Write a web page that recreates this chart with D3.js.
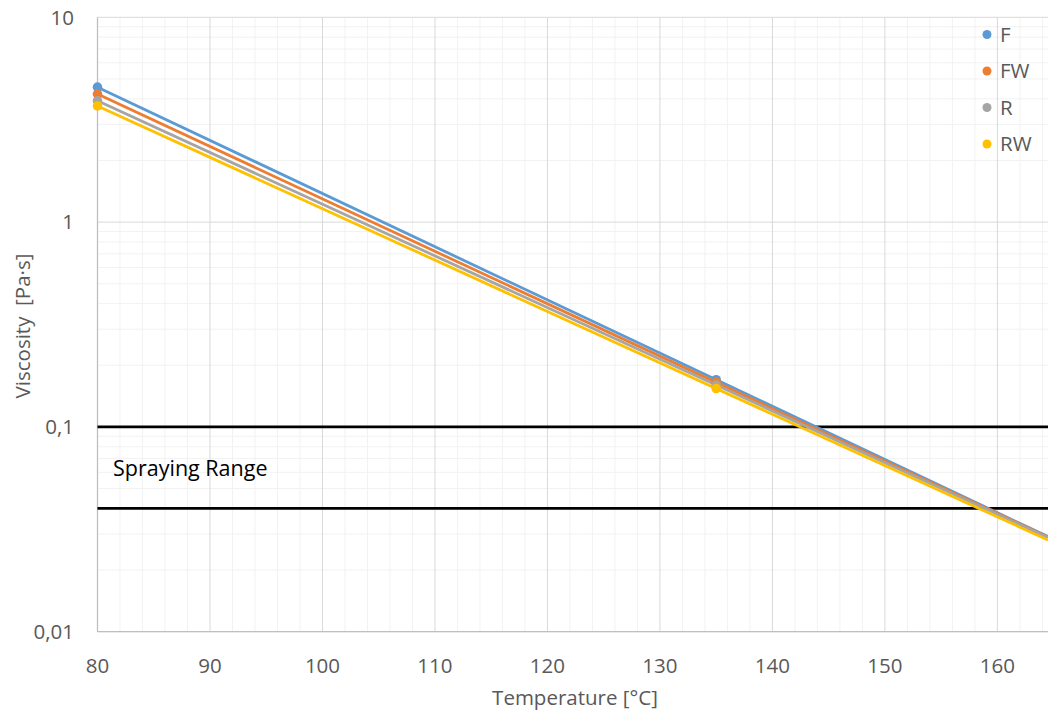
<!DOCTYPE html>
<html>
<head>
<meta charset="utf-8">
<title>Viscosity vs temperature</title>
<script src="https://cdn.jsdelivr.net/npm/d3@7"></script>
<style>
body { margin: 0; background: #fff; }
svg text { font-family: "Open Sans", "Liberation Sans", sans-serif; }
</style>
</head>
<body>
<div id="chart"></div>
<script>
// measured temperatures [°C]
const temps = [80, 135];
// viscosity [Pa·s]
const seriesNames = ["F", "FW", "R", "RW"];
const viscF  = [4.56, 0.170];
const viscFW = [4.22, 0.165];
const viscR  = [3.91, 0.160];
const viscRW = [3.69, 0.154];
const colors = ["#5B9BD5", "#ED7D31", "#A5A5A5", "#FFC000"];

const xTicks = [80, 90, 100, 110, 120, 130, 140, 150, 160];
const yTicks = [10, 1, 0.1, 0.01];
const yTickLabels = ["10", "1", "0,1", "0,01"];
const sprayLimits = [0.1, 0.04];

const width = 1048, height = 713;
const pLeft = 97.5, pRight = 1048, pTop = 17.3, pBottom = 631.7;
const fs = 20.5;

const x = d3.scaleLinear().domain([80, 164.5]).range([pLeft, pRight]);
const y = d3.scaleLog().domain([0.01, 10]).range([pBottom, pTop]);

const svg = d3.select("#chart").append("svg")
    .attr("width", width)
    .attr("height", height);

svg.append("defs").append("clipPath").attr("id", "plot")
  .append("rect")
    .attr("x", pLeft - 6).attr("y", pTop - 6)
    .attr("width", pRight - pLeft + 6).attr("height", pBottom - pTop + 6);

// minor grid
const minorY = [];
[0.01, 0.1, 1].forEach(dec => { for (let k = 2; k <= 9; k++) minorY.push(dec * k); });
const minorX = d3.range(82, 165, 2).filter(v => v % 10 !== 0);

const grid = svg.append("g");
grid.selectAll(".my").data(minorY).join("line")
    .attr("x1", pLeft).attr("x2", pRight)
    .attr("y1", d => y(d)).attr("y2", d => y(d))
    .attr("stroke", "#f2f2f2").attr("stroke-width", 1);
grid.selectAll(".mx").data(minorX).join("line")
    .attr("x1", d => x(d)).attr("x2", d => x(d))
    .attr("y1", pTop).attr("y2", pBottom)
    .attr("stroke", "#f2f2f2").attr("stroke-width", 1);
// major grid
grid.selectAll(".gy").data(yTicks).join("line")
    .attr("x1", pLeft).attr("x2", pRight)
    .attr("y1", d => y(d)).attr("y2", d => y(d))
    .attr("stroke", "#d9d9d9").attr("stroke-width", 1);
grid.selectAll(".gx").data(xTicks.slice(1)).join("line")
    .attr("x1", d => x(d)).attr("x2", d => x(d))
    .attr("y1", pTop).attr("y2", pBottom)
    .attr("stroke", "#d9d9d9").attr("stroke-width", 1);

// axis lines
svg.append("line").attr("x1", pLeft).attr("x2", pLeft).attr("y1", pTop).attr("y2", pBottom)
    .attr("stroke", "#bfbfbf").attr("stroke-width", 1.3);
svg.append("line").attr("x1", pLeft).attr("x2", pRight).attr("y1", pBottom).attr("y2", pBottom)
    .attr("stroke", "#bfbfbf").attr("stroke-width", 1.3);

// tick labels
svg.selectAll(".xl").data(xTicks).join("text")
    .attr("x", d => x(d)).attr("y", 673)
    .attr("text-anchor", "middle")
    .attr("font-size", fs).attr("fill", "#595959")
    .text(d => d);
svg.selectAll(".yl").data(yTicks).join("text")
    .attr("x", 74).attr("y", d => y(d))
    .attr("dy", "0.36em")
    .attr("text-anchor", "end")
    .attr("font-size", fs).attr("fill", "#595959")
    .text((d, i) => yTickLabels[i]);

// axis titles
svg.append("text")
    .attr("x", 575).attr("y", 705)
    .attr("text-anchor", "middle")
    .attr("font-size", fs).attr("fill", "#595959")
    .text("Temperature [°C]");
svg.append("text")
    .attr("transform", `translate(30,326) rotate(-90)`)
    .attr("text-anchor", "middle")
    .attr("font-size", fs).attr("fill", "#595959")
    .attr("xml:space", "preserve")
    .text("Viscosity  [Pa·s]");

// spraying range
svg.selectAll(".spray").data(sprayLimits).join("line")
    .attr("x1", pLeft).attr("x2", pRight)
    .attr("y1", d => y(d)).attr("y2", d => y(d))
    .attr("stroke", "#000").attr("stroke-width", 2.6);
svg.append("text")
    .attr("x", 113).attr("y", 476)
    .attr("font-size", 21.5).attr("font-weight", 500).attr("fill", "#000")
    .text("Spraying Range");

// series: exponential trend line through the measured points
const series = [viscF, viscFW, viscR, viscRW].map((v, i) => ({
  name: seriesNames[i], color: colors[i],
  points: temps.map((t, j) => ({ t: t, v: v[j] }))
}));

const line = d3.line().x(d => x(d.t)).y(d => y(d.v));
const plot = svg.append("g").attr("clip-path", "url(#plot)");

series.forEach(s => {
  const p0 = s.points[0], p1 = s.points[1];
  const k = Math.log(p1.v / p0.v) / (p1.t - p0.t);
  const tEnd = x.domain()[1];
  const trend = [p0, { t: tEnd, v: p0.v * Math.exp(k * (tEnd - p0.t)) }];
  plot.append("path")
      .datum(trend)
      .attr("d", line)
      .attr("fill", "none")
      .attr("stroke", s.color)
      .attr("stroke-width", 2.8);
});
series.forEach(s => {
  plot.selectAll(null).data(s.points).join("circle")
      .attr("cx", d => x(d.t)).attr("cy", d => y(d.v))
      .attr("r", 4.8)
      .attr("fill", s.color);
});

// legend
const legend = svg.append("g");
series.forEach((s, i) => {
  const ly = 34.5 + i * 36.5;
  legend.append("circle").attr("cx", 987).attr("cy", ly).attr("r", 4.5).attr("fill", s.color);
  legend.append("text").attr("x", 1000).attr("y", ly).attr("dy", "0.36em")
      .attr("font-size", fs).attr("fill", "#595959").text(s.name);
});
</script>
</body>
</html>
